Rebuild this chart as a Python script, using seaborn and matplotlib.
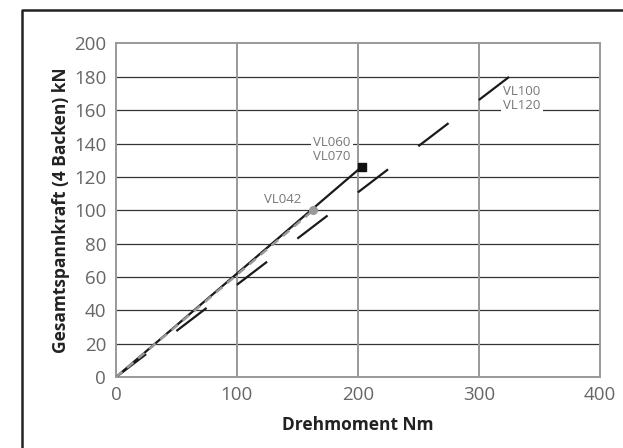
import pandas as pd
import matplotlib.pyplot as plt
import seaborn as sns
from matplotlib.lines import Line2D

# values
vl060_x = [0, 203]
vl060_y = [0, 126]
vl042_x = [0, 163]
vl042_y = [0, 100]
vl100_x = [0, 325]
vl100_y = [0, 180]

x_ticks = [0, 100, 200, 300, 400]
y_ticks = [0, 20, 40, 60, 80, 100, 120, 140, 160, 180, 200]

sns.set_style("white")
plt.rcParams['font.family'] = ['Open Sans', 'DejaVu Sans']
plt.rcParams['lines.scale_dashes'] = False

fig = plt.figure(figsize=(6.23, 4.48), dpi=100)
ax = fig.add_axes([0.186, 0.158, 0.777, 0.745])

# grid
for y in y_ticks[1:-1]:
    ax.axhline(y, color="#333333", lw=0.9, zorder=1)
for x in x_ticks[1:-1]:
    ax.axvline(x, color="#999999", lw=1.4, zorder=1)

d060 = pd.DataFrame({"Drehmoment": vl060_x, "Kraft": vl060_y})
d042 = pd.DataFrame({"Drehmoment": vl042_x, "Kraft": vl042_y})
d100 = pd.DataFrame({"Drehmoment": vl100_x, "Kraft": vl100_y})

sns.lineplot(data=d060, x="Drehmoment", y="Kraft", ax=ax, color="#1a1a1a", lw=1.6, zorder=3)
l100 = sns.lineplot(data=d100, x="Drehmoment", y="Kraft", ax=ax, color="#1a1a1a", lw=1.6, zorder=3).lines[-1]
l100.set_dashes((27.4, 27.4))
l042 = sns.lineplot(data=d042, x="Drehmoment", y="Kraft", ax=ax, color="#999999", lw=1.8, zorder=4).lines[-1]
l042.set_dashes((6, 4.5))

ax.plot(vl060_x[-1], vl060_y[-1], marker="s", ms=6, color="#111111", zorder=5)
ax.plot(vl042_x[-1], vl042_y[-1], marker="o", ms=5.5, color="#999999", zorder=5)

lab_kw = dict(color="#777777", fontsize=9.5, linespacing=1.05, zorder=2,
              bbox=dict(facecolor="white", edgecolor="none", pad=1.5))
ax.text(194, 136.5, "VL060\nVL070", ha="right", va="center", **lab_kw)
ax.text(320, 167, "VL100\nVL120", ha="left", va="center", **lab_kw)
ax.text(153, 106.5, "VL042", ha="right", va="center", color="#777777", fontsize=9.5)

ax.set_xlim(0, 400)
ax.set_ylim(0, 200)
ax.set_xticks(x_ticks)
ax.set_yticks(y_ticks)
ax.tick_params(axis="both", colors="#999999", labelcolor="#666666", labelsize=13.5,
               length=5, width=1.2, direction="out")
ax.tick_params(axis="x", pad=1)
ax.tick_params(axis="y", pad=2)
for s in ax.spines.values():
    s.set_color("#999999")
    s.set_linewidth(1.4)

ax.set_xlabel("Drehmoment Nm", fontsize=12.5, fontweight="bold", color="#222222", labelpad=9)
ax.set_ylabel("Gesamtspannkraft (4 Backen) kN", fontsize=12.5, fontweight="bold",
              color="#222222", labelpad=3)

# outer frame (only left and top edges fall inside the picture)
fx = 22 / 623
fy = 1 - 10 / 448
fig.lines.append(Line2D([fx, fx, 1.1], [-0.1, fy, fy], transform=fig.transFigure,
                        color="#222222", lw=1.8))

fig.savefig("out.png", dpi=100)
